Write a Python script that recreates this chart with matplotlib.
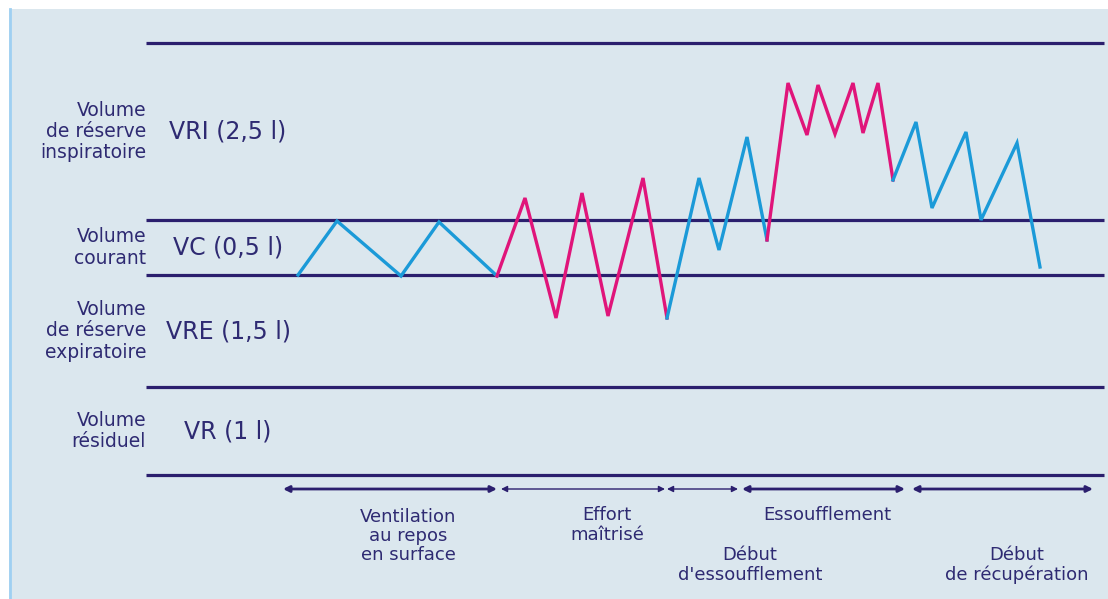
import matplotlib
matplotlib.use("Agg")
import matplotlib.pyplot as plt
from matplotlib.patches import Rectangle

# ------------------------------------------------------------------
# Data (diagram units: time to the right, volume levels top -> bottom)
# ------------------------------------------------------------------
level_edges = [43, 220, 275, 387, 475]          # boundaries between volumes
level_names = ["Volume\nde réserve\ninspiratoire", "Volume\ncourant",
               "Volume\nde réserve\nexpiratoire", "Volume\nrésiduel"]
level_codes = ["VRI (2,5 l)", "VC (0,5 l)", "VRE (1,5 l)", "VR (1 l)"]

# breathing trace, split in segments (blue = calm, pink = effort)
rest_t = [298, 337, 401, 439, 497]
rest_v = [275, 221, 276, 222, 276]
effort_t = [497, 525, 556, 582, 608, 643, 667]
effort_v = [276, 198, 318, 193, 316, 178, 318]
start_breathless_t = [667, 699, 719, 747, 767]
start_breathless_v = [318, 178, 250, 137, 240]
breathless_t = [767, 788, 807, 818, 835, 853, 863, 878, 893]
breathless_v = [240, 83, 135, 85, 134, 83, 133, 83, 180]
recovery_t = [893, 916, 932, 966, 981, 1017, 1040]
recovery_v = [180, 122, 208, 132, 220, 143, 267]

# phases along the time axis
phase_start = [283, 501, 667, 742, 912]
phase_end = [497, 665, 738, 905, 1093]
phase_bold = [True, False, False, True, True]
phase_labels = ["Ventilation\nau repos\nen surface", "Effort\nmaîtrisé",
                "Début\nd'essoufflement", "Essoufflement",
                "Début\nde récupération"]
phase_label_x = [408, 607, 750, 827, 1017]
phase_label_y = [536, 525, 565, 515, 565]

NAVY = "#2b1f6e"
TEXT = "#2e2a72"
BLUE = "#1b9ad8"
PINK = "#e0157a"

fig = plt.figure(figsize=(11.08, 5.99), dpi=100)
ax = fig.add_axes([0, 0, 1, 1])
ax.set_xlim(0, 1108)
ax.set_ylim(599, 0)
ax.axis("off")

# panel background
ax.add_patch(Rectangle((9, 9), 1099, 590, facecolor="#dbe7ee", edgecolor="none", zorder=0))
ax.plot([10, 10], [9, 599], color="#9fd0f2", lw=2, zorder=1)

# level lines
for y in level_edges:
    ax.plot([146, 1104], [y, y], color=NAVY, lw=2.3, solid_capstyle="butt", zorder=2)

# labels for each band
for i in range(4):
    ymid = (level_edges[i] + level_edges[i + 1]) / 2
    ax.text(146, ymid, level_names[i], ha="right", va="center", color=TEXT,
            fontsize=13.5, linespacing=1.15, family="DejaVu Sans")
    ax.text(228, ymid, level_codes[i], ha="center", va="center", color=TEXT,
            fontsize=17, family="DejaVu Sans")

# trace
segments = [(rest_t, rest_v, BLUE), (effort_t, effort_v, PINK),
             (start_breathless_t, start_breathless_v, BLUE),
             (breathless_t, breathless_v, PINK), (recovery_t, recovery_v, BLUE)]
for t, v, c in segments:
    ax.plot(t, v, color=c, lw=2.4, solid_joinstyle="miter", zorder=3)

# phase arrows and labels
for i in range(len(phase_start)):
    lw = 2.0 if phase_bold[i] else 1.0
    ax.annotate("", xy=(phase_end[i], 489), xytext=(phase_start[i], 489),
                arrowprops=dict(arrowstyle="<|-|>", color=NAVY, lw=lw,
                                mutation_scale=9, shrinkA=0, shrinkB=0))
    ax.text(phase_label_x[i], phase_label_y[i], phase_labels[i], ha="center", va="center",
            color=TEXT, fontsize=13, linespacing=1.1, family="DejaVu Sans")

fig.savefig("out.png", dpi=100)
